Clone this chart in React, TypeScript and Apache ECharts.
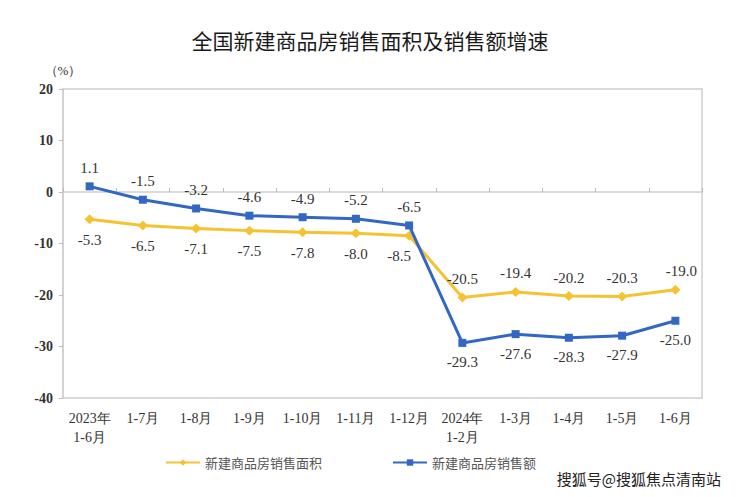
import React, { useEffect, useRef } from "react";
import * as echarts from "echarts";

const categories = ["2023年\n1-6月", "1-7月", "1-8月", "1-9月", "1-10月", "1-11月", "1-12月", "2024年\n1-2月", "1-3月", "1-4月", "1-5月", "1-6月"];
const areaGrowth = [-5.3, -6.5, -7.1, -7.5, -7.8, -8.0, -8.5, -20.5, -19.4, -20.2, -20.3, -19.0];
const salesGrowth = [1.1, -1.5, -3.2, -4.6, -4.9, -5.2, -6.5, -29.3, -27.6, -28.3, -27.9, -25.0];
const seriesNames = ["新建商品房销售面积", "新建商品房销售额"];
const titleText = "全国新建商品房销售面积及销售额增速";
const watermark = "搜狐号@搜狐焦点清南站";

const YELLOW = "#F5C232";
const BLUE = "#3267C4";
const SERIF = "'Liberation Serif', 'Times New Roman', serif";
const CJK = "'Noto Sans CJK SC', sans-serif";

export default function App() {
  const ref = useRef<HTMLDivElement>(null);
  useEffect(() => {
    if (!ref.current) return;
    const chart = echarts.init(ref.current, undefined, { renderer: "svg" });
    const labelBase = { show: true, fontFamily: SERIF, fontSize: 15, color: "#333", formatter: (p: any) => Number(p.value).toFixed(1) };
    const areaData = areaGrowth.map((v, i) => ({
      value: v,
      label: i < 7
        ? { position: "bottom", distance: 8, offset: i === 6 ? [-10, 0] : [0, 0] }
        : { position: "top", distance: 6, offset: i === 11 ? [6, 0] : [0, 0] },
    }));
    const salesData = salesGrowth.map((v, i) => ({
      value: v,
      label: i < 7 ? { position: "top", distance: 7 } : { position: "bottom", distance: 8 },
    }));
    chart.setOption({
      animation: false,
      backgroundColor: "#fff",
      title: {
        text: titleText,
        left: "center",
        top: 24,
        textStyle: { fontFamily: CJK, fontSize: 21, fontWeight: "normal", color: "#1a1a1a" },
      },
      grid: { left: 63, right: 38, top: 89, bottom: 99, show: true, borderColor: "#cfcfcf", borderWidth: 1.5 },
      legend: {
        bottom: 23,
        left: 160,
        itemGap: 70,
        itemWidth: 34,
        itemHeight: 8,
        textStyle: { fontFamily: CJK, fontSize: 13, color: "#555" },
        data: [seriesNames[0], seriesNames[1]],
      },
      xAxis: {
        type: "category",
        data: categories,
        boundaryGap: true,
        axisLine: { show: true, lineStyle: { color: "#cfcfcf", width: 1.5 } },
        axisTick: { show: true, inside: true, length: 4, lineStyle: { color: "#bbb" } },
        axisLabel: { fontFamily: SERIF, fontSize: 14, color: "#333", lineHeight: 19, margin: 11, interval: 0 },
        splitLine: { show: false },
      },
      yAxis: {
        type: "value",
        min: -40,
        max: 20,
        interval: 10,
        name: "（%）",
        nameLocation: "end",
        nameGap: 12,
        nameTextStyle: { fontFamily: SERIF, fontSize: 13, color: "#333", align: "center", padding: [0, 0, 0, 0] },
        axisLine: { show: true, lineStyle: { color: "#cfcfcf", width: 1.5 } },
        axisTick: { show: true, length: 4, lineStyle: { color: "#bbb" } },
        axisLabel: { fontFamily: SERIF, fontSize: 14, fontWeight: "bold", color: "#333", margin: 10 },
        splitLine: { show: false },
      },
      series: [
        {
          name: seriesNames[0],
          type: "line",
          data: areaData,
          symbol: "diamond",
          symbolSize: 10,
          lineStyle: { color: YELLOW, width: 3 },
          itemStyle: { color: YELLOW },
          label: labelBase,
          z: 2,
        },
        {
          name: seriesNames[1],
          type: "line",
          data: salesData,
          symbol: "rect",
          symbolSize: 8,
          lineStyle: { color: BLUE, width: 3 },
          itemStyle: { color: BLUE },
          label: labelBase,
          z: 3,
        },
      ],
      graphic: [
        {
          type: "text",
          right: 18,
          bottom: 10,
          style: { text: watermark, fontFamily: CJK, fontSize: 15, fontWeight: "normal", fill: "#222", stroke: "#fff", lineWidth: 2 },
        },
      ],
    });
    return () => chart.dispose();
  }, []);
  return <div ref={ref} style={{ width: 740, height: 497, position: "absolute", left: 0, top: 0 }} />;
}
